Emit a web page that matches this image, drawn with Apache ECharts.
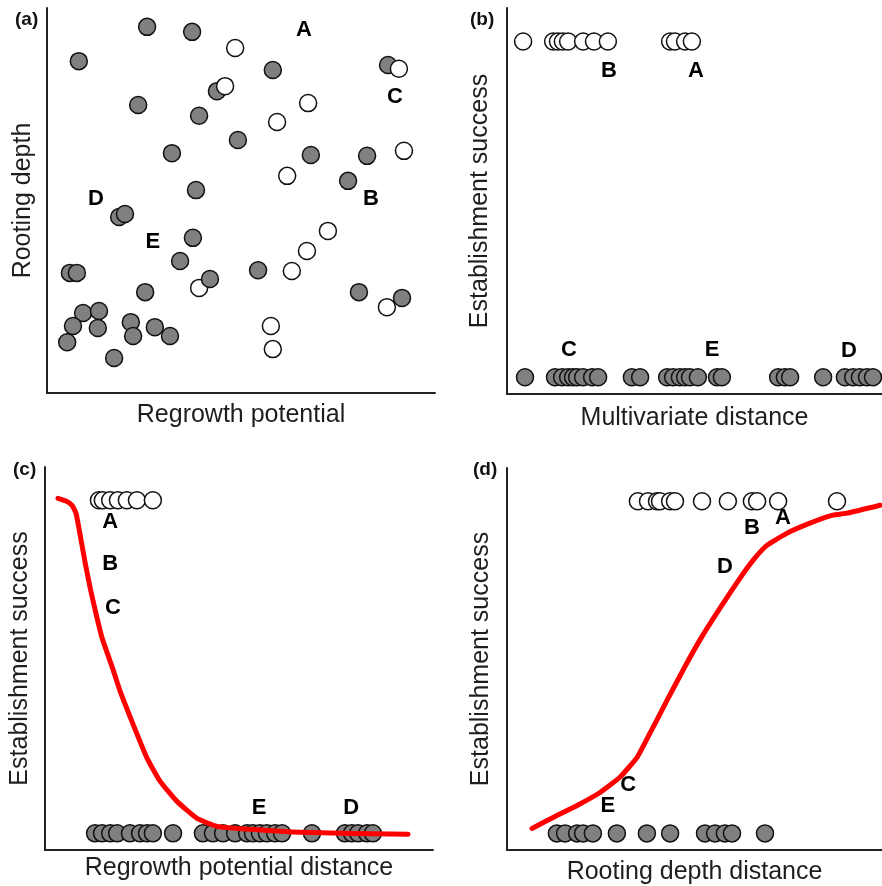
<!DOCTYPE html>
<html>
<head>
<meta charset="utf-8">
<script src="https://cdn.jsdelivr.net/npm/echarts@6/dist/echarts.min.js"></script>
<style>
html,body{margin:0;padding:0;background:#fff;}
#chart{width:882px;height:886px;}
</style>
</head>
<body>
<div id="chart"></div>
<script>
// ---------- Panel (a): Rooting depth vs Regrowth potential ----------
const aGray = [
  [25.8,95.1],[37.4,93.8],[8.2,86.2],[58.2,83.9],[87.9,85.2],[43.8,78.4],[23.5,74.8],
  [39.2,72.0],[49.2,65.7],[32.2,62.3],[68.0,61.8],[82.5,61.6],[77.6,55.1],[38.4,52.7],
  [18.6,45.7],[20.1,46.5],[37.6,40.3],[34.3,34.3],[5.9,31.2],[7.7,31.2],[25.3,26.2],
  [54.4,31.9],[80.4,26.2],[9.3,20.8],[13.4,21.3],[6.7,17.4],[13.1,16.9],[21.6,18.4],
  [22.2,14.8],[27.8,17.1],[31.7,14.8],[5.2,13.2],[17.3,9.1]
];
const aWhite = [
  [90.7,84.2],[45.9,79.7],[48.5,89.6],[67.3,75.3],[59.3,70.4],[92.0,62.9],[61.9,56.4],
  [39.2,27.3],[63.1,31.7],[67.0,36.9],[72.4,42.1],[87.6,22.3],[57.7,17.4],[58.2,11.4]
];
// gray points drawn above white ones where they overlap
const aGrayTop = [[42.0,29.6],[91.5,24.7]];
const aLabels = [['A',66.2,94.3],['C',89.7,76.9],['B',83.5,50.4],['D',12.6,50.4],['E',27.3,39.2]];

// ---------- Panel (b): Establishment success vs Multivariate distance ----------
const bWhiteX = [4.3,12.3,13.6,14.9,16.3,20.3,23.2,26.9,43.5,44.8,47.5,49.3];
const bGrayX = [4.8,12.8,14.7,16.3,17.6,18.7,20.3,22.7,24.3,33.3,35.5,42.7,44.3,46.1,47.5,
  48.8,50.9,56.0,57.3,72.3,74.1,75.5,84.3,90.1,92.3,94.1,96.0,97.6];
const bLabels = [['B',27.2,0.913],['A',50.4,0.913],['C',16.5,0.081],['E',54.7,0.081],['D',91.2,0.078]];

// ---------- Panel (c): Establishment success vs Regrowth potential distance ----------
const cWhiteX = [13.9,14.9,16.8,18.8,21.1,23.7,27.8];
const cGrayX = [12.9,14.7,16.8,18.6,21.9,24.5,26.3,27.8,33.0,40.7,43.3,45.9,49.0,52.1,53.6,
  55.4,57.2,59.3,61.1,68.8,77.3,79.1,80.7,83.0,84.5];
const cCurve = [
  [3.35,1.006],[5.41,0.998],[6.96,0.985],[7.99,0.961],[8.84,0.910],[10.39,0.810],[11.78,0.729],
  [13.14,0.660],[14.69,0.587],[17.65,0.488],[19.33,0.428],[22.68,0.328],[26.29,0.226],
  [29.64,0.157],[34.02,0.096],[39.18,0.045],[44.33,0.021],[52.84,0.012],[65.72,0.003],[93.56,-0.003]
];
const cLabels = [['A',16.8,0.934],['B',16.8,0.810],['C',17.5,0.678],['E',55.2,0.075],['D',78.9,0.075]];

// ---------- Panel (d): Establishment success vs Rooting depth distance ----------
const dWhiteX = [34.9,37.6,40.0,40.8,43.5,44.8,52.0,58.9,65.3,66.7,72.3,88.0];
const dGrayX = [13.3,15.5,18.7,20.3,22.9,29.3,37.3,43.5,52.8,55.5,58.1,60.0,68.8];
const dCurve = [
  [6.67,0.015],[12.3,0.048],[18.7,0.084],[24.8,0.123],[30.1,0.169],[34.7,0.229],[38.1,0.301],
  [42.7,0.401],[47.2,0.497],[51.7,0.587],[56.8,0.678],[62.1,0.768],[65.6,0.822],[69.3,0.867],
  [74.7,0.904],[80.8,0.934],[86.9,0.958],[90.7,0.964],[99.5,0.988]
];
const dLabels = [['B',65.3,0.919],['A',73.6,0.949],['D',58.1,0.801],['C',32.3,0.145],['E',26.9,0.084]];

const xTitles = ['Regrowth potential','Multivariate distance','Regrowth potential distance','Rooting depth distance'];
const yTitles = ['Rooting depth','Establishment success','Establishment success','Establishment success'];
const panelTags = ['(a)','(b)','(c)','(d)'];

// ---------- build ----------
const FONT = '"Liberation Sans", Arial, sans-serif';
const GRAYFILL = '#808080';
const TXT = '#1e1e1e';
const grids = [
  {left:47, top:8, width:388, height:385},
  {left:507, top:8, width:375, height:386},
  {left:45, top:467, width:388, height:383},
  {left:507, top:468, width:375, height:382}
];
const xGaps = [10, 12, 6, 10];
const yGaps = [11, 14, 12, 13];

function axisBase(){
  return {
    type:'value',
    axisLine:{show:true, onZero:false, lineStyle:{color:'#222', width:2}},
    axisTick:{show:false}, axisLabel:{show:false}, splitLine:{show:false},
    nameLocation:'middle',
    nameTextStyle:{fontFamily:FONT, fontSize:25, color:TXT}
  };
}
const xAxes = grids.map((g,i)=>Object.assign(axisBase(),{gridIndex:i, min:0, max:100, name:xTitles[i], nameGap:xGaps[i]}));
const yAxes = grids.map((g,i)=>Object.assign(axisBase(),{gridIndex:i, min:i===0?0:-0.05, max:i===0?100:1.1, name:yTitles[i], nameGap:yGaps[i]}));

function pts(arr, style, i, z){
  return {type:'scatter', xAxisIndex:i, yAxisIndex:i, data:arr, symbol:'circle', symbolSize:17, z:z,
    itemStyle:{color:style, borderColor:'#111', borderWidth:1.5, opacity:1}, silent:true, animation:false};
}
function row(xs, yv){ return xs.map(x=>[x,yv]); }
function labels(arr, i){
  return {type:'scatter', xAxisIndex:i, yAxisIndex:i, symbol:'circle', symbolSize:2, z:20, silent:true, animation:false,
    itemStyle:{color:'#fff', opacity:0},
    data: arr.map(a=>({name:a[0], value:[a[1],a[2]]})),
    label:{show:true, position:[1,1], align:'center', verticalAlign:'middle', formatter:p=>p.name,
      fontFamily:FONT, fontWeight:'bold', fontSize:22, color:'#000', opacity:1, textBorderWidth:0}};
}
function curve(arr, i){
  return {type:'line', xAxisIndex:i, yAxisIndex:i, data:arr, symbol:'none', smooth:0.15, z:15, silent:true, animation:false,
    lineStyle:{color:'#ff0000', width:5, cap:'round', join:'round'}};
}

const series = [
  pts(aGray, GRAYFILL, 0, 3), pts(aWhite, '#fff', 0, 4), pts(aGrayTop, GRAYFILL, 0, 5), labels(aLabels, 0),
  pts(row(bWhiteX,1), '#fff', 1, 3), pts(row(bGrayX,0), GRAYFILL, 1, 3), labels(bLabels, 1),
  pts(row(cWhiteX,1), '#fff', 2, 3), pts(row(cGrayX,0), GRAYFILL, 2, 3), curve(cCurve, 2), labels(cLabels, 2),
  pts(row(dWhiteX,1), '#fff', 3, 3), pts(row(dGrayX,0), GRAYFILL, 3, 3), curve(dCurve, 3), labels(dLabels, 3)
];

const tagPos = [[29,21],[484,21],[27,471],[487,471]];
const graphic = panelTags.map((t,i)=>({type:'text', left:tagPos[i][0]-14, top:tagPos[i][1]-11,
  style:{text:t, font:'bold 19px '+FONT, fill:'#111'}}));

const chart = echarts.init(document.getElementById('chart'), null, {renderer:'canvas'});
chart.setOption({animation:false, backgroundColor:'#fff', grid:grids, xAxis:xAxes, yAxis:yAxes, series:series, graphic:graphic});
</script>
</body>
</html>
